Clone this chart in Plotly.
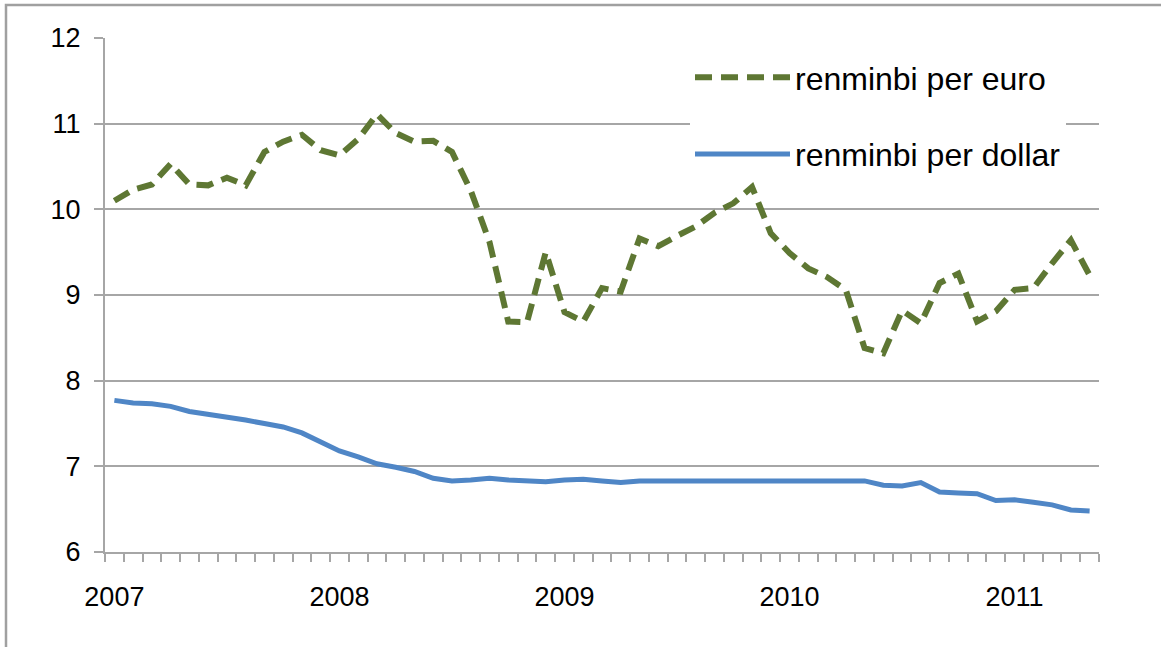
import plotly.graph_objects as go

# Monthly observations, Jan 2007 .. May 2011 (53 months)
months = [f"{y}-{m:02d}" for y in range(2007, 2012) for m in range(1, 13)][:53]
year_labels = ["2007", "2008", "2009", "2010", "2011"]

renminbi_per_euro = [
    10.10, 10.23, 10.29, 10.53, 10.29, 10.28, 10.37, 10.28, 10.67, 10.79,
    10.87, 10.69, 10.63, 10.82, 11.11, 10.89, 10.79, 10.80, 10.67, 10.22,
    9.62, 8.69, 8.68, 9.50, 8.80, 8.69, 9.08, 9.04, 9.66, 9.57,
    9.69, 9.80, 9.96, 10.07, 10.26, 9.72, 9.49, 9.31, 9.21, 9.06,
    8.38, 8.32, 8.82, 8.67, 9.14, 9.25, 8.69, 8.81, 9.06, 9.08,
    9.37, 9.64, 9.23,
]
renminbi_per_dollar = [
    7.77, 7.74, 7.73, 7.70, 7.64, 7.61, 7.57, 7.54, 7.50, 7.46,
    7.39, 7.29, 7.18, 7.11, 7.03, 6.99, 6.94, 6.86, 6.83, 6.84,
    6.86, 6.84, 6.83, 6.82, 6.84, 6.85, 6.83, 6.81, 6.83, 6.83,
    6.83, 6.83, 6.83, 6.83, 6.83, 6.83, 6.83, 6.83, 6.83, 6.83,
    6.83, 6.78, 6.77, 6.81, 6.70, 6.69, 6.68, 6.60, 6.61, 6.58,
    6.55, 6.49, 6.48,
]

x_idx = list(range(len(months)))
year_ticks = [i for i, m in enumerate(months) if m.endswith("-01")]
boundaries = [i - 0.5 for i in range(len(months) + 1)]

GRID = "#a6a6a6"
FONT = "Liberation Sans, Arial, sans-serif"

fig = go.Figure()
fig.add_trace(go.Scatter(
    x=x_idx, y=renminbi_per_euro, mode="lines", name="renminbi per euro",
    legendgroup="euro",
    line=dict(color="#5e7733", width=6, dash="17px,9px"),
))
fig.add_trace(go.Scatter(
    x=x_idx, y=renminbi_per_dollar, mode="lines", name="renminbi per dollar",
    legendgroup="dollar",
    line=dict(color="#4f86c6", width=5),
))

L, R, T, B = 105, 62, 38, 95
W, H = 1161, 647
pw = W - L - R
ph = H - T - B

fig.update_layout(
    width=W, height=H,
    margin=dict(l=L, r=R, t=T, b=B),
    paper_bgcolor="white", plot_bgcolor="white",
    font=dict(family=FONT, size=27, color="#000000"),
    showlegend=True,
    legend=dict(
        x=(690 - L) / pw, y=(H - B - 50) / ph, xanchor="left", yanchor="top",
        bgcolor="white", borderwidth=0,
        font=dict(family=FONT, size=32, color="#000000"),
        itemwidth=95, tracegroupgap=32, traceorder="grouped",
    ),
    xaxis=dict(
        range=[-0.5, len(months) - 0.5],
        tickmode="array", tickvals=year_ticks, ticktext=year_labels,
        ticks="outside", ticklen=8, tickcolor="rgba(0,0,0,0)",
        ticklabelstandoff=12,
        showgrid=False, zeroline=False,
        showline=True, linecolor=GRID, linewidth=2,
        minor=dict(tickmode="array", tickvals=boundaries, ticks="outside",
                   ticklen=8, tickcolor=GRID, tickwidth=2, showgrid=False),
        tickfont=dict(size=27),
    ),
    yaxis=dict(
        range=[6, 12], dtick=1, tick0=6,
        ticks="outside", ticklen=9, tickcolor=GRID, tickwidth=2,
        showgrid=True, gridcolor=GRID, gridwidth=2,
        zeroline=False, showline=True, linecolor=GRID, linewidth=2,
        ticklabelstandoff=8,
        tickfont=dict(size=27),
    ),
)

# outer chart frame (top and left edges visible)
fig.add_shape(
    type="rect", xref="paper", yref="paper",
    x0=(6 - L) / pw, x1=1.3, y0=-0.4, y1=(H - B - 5) / ph,
    line=dict(color="#a0a0a0", width=2.5), fillcolor="rgba(0,0,0,0)",
    layer="below",
)

fig.write_html(
    "out.html",
    config={"displayModeBar": False},
    post_script="document.body.style.margin='0';",
)
